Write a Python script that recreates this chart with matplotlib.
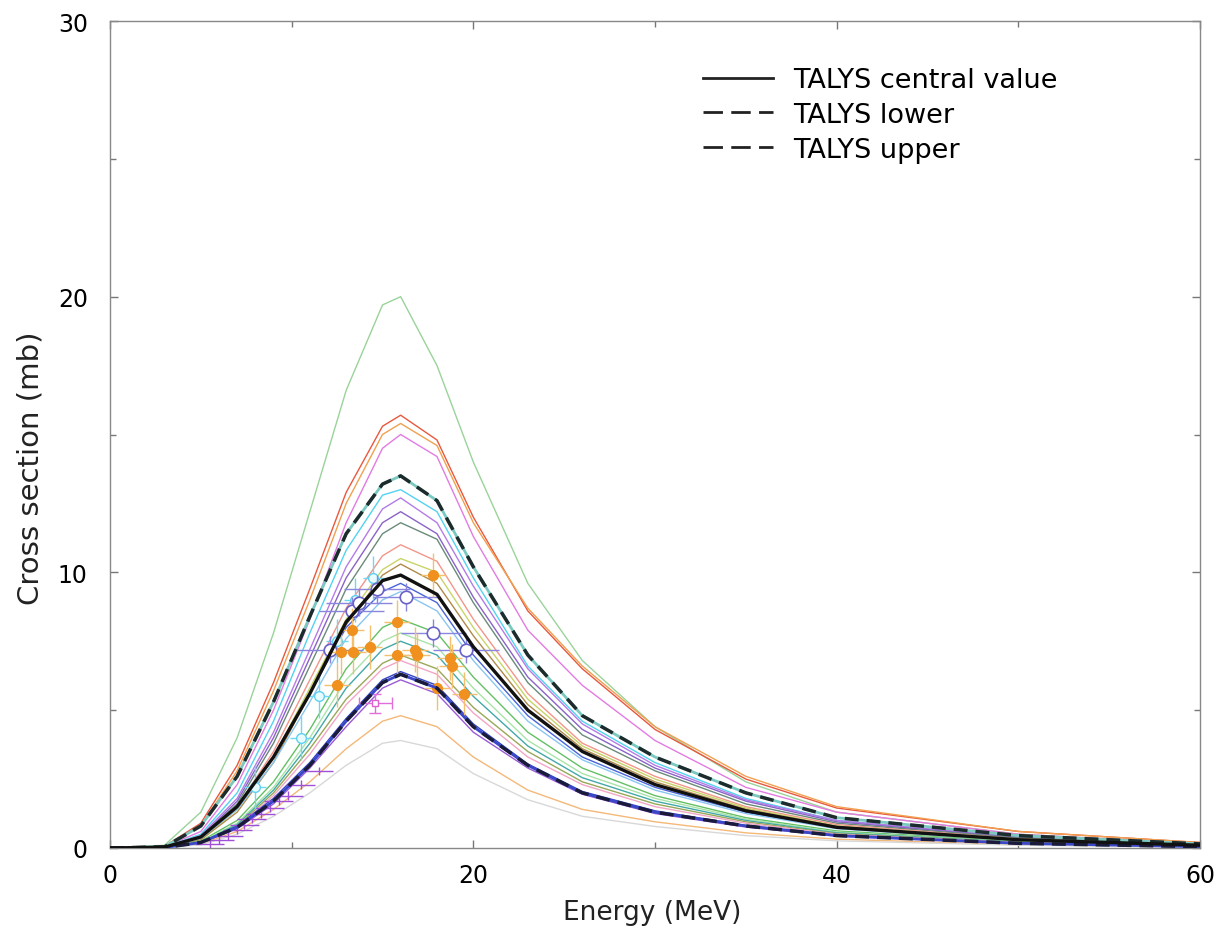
import matplotlib
matplotlib.use("Agg")
import matplotlib.pyplot as plt
from matplotlib.ticker import MultipleLocator
from matplotlib.lines import Line2D

# ---------------- data ----------------
energy = [0, 3, 5, 7, 9, 11, 13, 15, 16, 18, 20, 23, 26, 30, 35, 40, 50, 60]

central = [0, 0.03, 0.4, 1.5, 3.3, 5.6, 8.2, 9.7, 9.9, 9.2, 7.3, 5.0, 3.5, 2.3, 1.35, 0.75, 0.3, 0.1]
lower   = [0, 0.02, 0.2, 0.75, 1.7, 3.0, 4.6, 6.0, 6.3, 5.8, 4.4, 3.0, 2.0, 1.3, 0.8, 0.45, 0.17, 0.05]
upper   = [0, 0.04, 0.8, 2.6, 5.3, 8.4, 11.4, 13.2, 13.5, 12.6, 10.2, 7.0, 4.8, 3.3, 2.0, 1.1, 0.45, 0.15]

model_colors = ["#9ad39a", "#e8583e", "#f0a050", "#e27be2", "#52d3f0", "#b37ce6",
                "#8a62c8", "#6a8a7a", "#f2968a", "#c8d468", "#b08a4a", "#4a64d8",
                "#8ac6f0", "#64c064", "#a8e4a8", "#44a8a8", "#98a858", "#f2a6c6",
                "#3444c4", "#9a5ad8", "#f4b878", "#d8d8d8"]
model_values = [
    [0, 0.10, 1.3, 4.0, 7.8, 12.2, 16.6, 19.7, 20.0, 17.5, 14.0, 9.6, 6.8, 4.4, 2.4, 1.3, 0.5, 0.15],
    [0, 0.06, 0.9, 3.0, 6.0, 9.4, 12.9, 15.3, 15.7, 14.8, 12.0, 8.6, 6.5, 4.3, 2.5, 1.45, 0.6, 0.2],
    [0, 0.05, 0.8, 2.8, 5.7, 9.0, 12.5, 15.0, 15.4, 14.6, 11.8, 8.7, 6.6, 4.4, 2.6, 1.5, 0.6, 0.2],
    [0, 0.04, 0.6, 2.3, 5.0, 8.3, 11.8, 14.5, 15.0, 14.2, 11.3, 7.9, 5.9, 3.9, 2.2, 1.3, 0.5, 0.15],
    [0, 0.03, 0.5, 2.0, 4.6, 7.8, 10.8, 12.8, 13.0, 12.2, 9.8, 6.6, 4.6, 3.1, 1.8, 1.0, 0.4, 0.12],
    [0, 0.03, 0.45, 1.8, 4.2, 7.2, 10.2, 12.3, 12.7, 11.8, 9.5, 6.5, 4.5, 3.0, 1.75, 1.0, 0.4, 0.12],
    [0, 0.03, 0.4, 1.7, 4.0, 6.9, 9.8, 11.8, 12.2, 11.4, 9.1, 6.2, 4.3, 2.9, 1.7, 0.95, 0.38, 0.12],
    [0, 0.03, 0.4, 1.6, 3.8, 6.6, 9.4, 11.4, 11.8, 11.2, 8.9, 6.0, 4.1, 2.8, 1.6, 0.9, 0.36, 0.11],
    [0, 0.03, 0.35, 1.5, 3.5, 6.1, 8.7, 10.6, 11.0, 10.4, 8.3, 5.6, 3.8, 2.6, 1.5, 0.85, 0.33, 0.1],
    [0, 0.02, 0.3, 1.4, 3.3, 5.8, 8.3, 10.1, 10.5, 10.0, 8.0, 5.4, 3.7, 2.5, 1.45, 0.8, 0.32, 0.1],
    [0, 0.02, 0.3, 1.3, 3.1, 5.6, 8.1, 9.9, 10.3, 9.6, 7.7, 5.2, 3.6, 2.4, 1.4, 0.78, 0.3, 0.1],
    [0, 0.03, 0.4, 1.5, 3.3, 5.6, 8.0, 9.3, 9.6, 8.9, 7.0, 4.8, 3.3, 2.2, 1.3, 0.72, 0.28, 0.09],
    [0, 0.03, 0.35, 1.4, 3.1, 5.3, 7.6, 9.0, 9.3, 8.6, 6.8, 4.6, 3.2, 2.1, 1.25, 0.7, 0.27, 0.09],
    [0, 0.02, 0.25, 1.0, 2.4, 4.3, 6.5, 8.0, 8.3, 7.8, 6.2, 4.2, 2.9, 1.9, 1.1, 0.62, 0.24, 0.08],
    [0, 0.02, 0.22, 0.9, 2.2, 4.0, 6.1, 7.5, 7.8, 7.3, 5.8, 3.9, 2.7, 1.8, 1.05, 0.58, 0.22, 0.07],
    [0, 0.02, 0.2, 0.85, 2.1, 3.8, 5.8, 7.2, 7.5, 7.0, 5.5, 3.7, 2.55, 1.7, 1.0, 0.55, 0.21, 0.07],
    [0, 0.02, 0.18, 0.8, 2.0, 3.6, 5.4, 6.7, 7.0, 6.5, 5.1, 3.5, 2.4, 1.6, 0.95, 0.52, 0.2, 0.06],
    [0, 0.02, 0.17, 0.75, 1.9, 3.4, 5.2, 6.5, 6.8, 6.3, 4.9, 3.3, 2.3, 1.5, 0.9, 0.5, 0.19, 0.06],
    [0, 0.02, 0.2, 0.8, 1.8, 3.1, 4.7, 6.1, 6.4, 5.9, 4.5, 3.05, 2.05, 1.35, 0.82, 0.46, 0.17, 0.05],
    [0, 0.02, 0.18, 0.7, 1.6, 2.9, 4.4, 5.8, 6.1, 5.6, 4.2, 2.9, 1.95, 1.25, 0.76, 0.43, 0.16, 0.05],
    [0, 0.015, 0.15, 0.6, 1.4, 2.4, 3.6, 4.6, 4.8, 4.4, 3.3, 2.1, 1.4, 0.95, 0.55, 0.32, 0.12, 0.04],
    [0, 0.01, 0.12, 0.5, 1.15, 2.0, 3.0, 3.8, 3.9, 3.6, 2.7, 1.75, 1.15, 0.78, 0.45, 0.26, 0.1, 0.03],
]

# experimental data sets
exp_orange_e   = [12.5, 12.7, 13.3, 13.4, 14.3, 15.8, 15.8, 16.8, 16.9, 17.8, 18.0, 18.7, 18.8, 19.5]
exp_orange_sig = [5.9, 7.1, 7.9, 7.1, 7.3, 8.2, 7.0, 7.2, 7.0, 9.9, 5.8, 6.9, 6.6, 5.6]

exp_open_e   = [12.1, 13.3, 13.7, 14.7, 16.3, 17.8, 19.6]
exp_open_sig = [7.2, 8.6, 8.9, 9.4, 9.1, 7.8, 7.2]

exp_cyan_e   = [8.0, 10.5, 11.5, 12.5, 13.5, 14.5]
exp_cyan_sig = [2.2, 4.0, 5.5, 7.5, 9.0, 9.8]

exp_purple_e   = [5.5, 6.0, 6.5, 7.0, 7.4, 7.8, 8.3, 8.8, 9.3, 9.8, 10.5, 11.5]
exp_purple_sig = [0.15, 0.3, 0.45, 0.65, 0.85, 1.05, 1.25, 1.45, 1.7, 1.9, 2.3, 2.8]

exp_mag_e   = [14.6]
exp_mag_sig = [5.25]

x_ticks = [0, 20, 40, 60]
y_ticks = [0, 10, 20, 30]
legend_labels = ['TALYS central value', 'TALYS lower', 'TALYS upper']

# ---------------- figure ----------------
plt.rcParams['font.family'] = ['DejaVu Sans']
W, H = 1219, 937
fig = plt.figure(figsize=(W / 100, H / 100), dpi=100)
ax = fig.add_axes([110 / W, 1 - 849 / H, 1090 / W, 827 / H])

for c, v in zip(model_colors, model_values):
    ax.plot(energy, v, color=c, lw=1.0, zorder=2)

# experimental data
ax.errorbar(exp_purple_e, exp_purple_sig, xerr=0.8, yerr=0.15, fmt='none',
            ecolor='#a050d8', elinewidth=1.0, capsize=0, zorder=3)
ax.errorbar(exp_cyan_e, exp_cyan_sig, xerr=0.6, yerr=0.8, fmt='o', ms=7,
            mfc='#e8fbff', mec='#60d0f0', ecolor='#70d8f4', elinewidth=1.0, zorder=4)
ax.errorbar(exp_open_e, exp_open_sig, xerr=1.8, yerr=0.5, fmt='o', ms=9,
            mfc='white', mec='#6a62c8', mew=1.2, ecolor='#8a86e0', elinewidth=1.0, zorder=5)
ax.errorbar(exp_orange_e, exp_orange_sig, xerr=0.7, yerr=0.8, fmt='o', ms=7,
            mfc='#f0901e', mec='#f0901e', ecolor='#f4c070', elinewidth=1.0, zorder=6)
ax.errorbar(exp_mag_e, exp_mag_sig, xerr=0.9, yerr=0.35, fmt='s', ms=5,
            mfc='white', mec='#e060d0', ecolor='#e070d8', elinewidth=1.0, capsize=4, zorder=5)

# TALYS curves
ax.plot(energy, upper, color='#7ac8c0', lw=2.0, zorder=7)
ax.plot(energy, upper, color='#1c2c2c', lw=2.5, dashes=(4, 2.3), zorder=7)
ax.plot(energy, lower, color='#3a48c8', lw=2.0, zorder=7)
ax.plot(energy, lower, color='#1a1a3a', lw=2.5, dashes=(4, 2.3), zorder=7)
ax.plot(energy, central, color='#111111', lw=2.4, zorder=8)

ax.set_xlim(0, 60)
ax.set_ylim(0, 30)
ax.set_xticks(x_ticks)
ax.set_yticks(y_ticks)
ax.xaxis.set_minor_locator(MultipleLocator(10))
ax.yaxis.set_minor_locator(MultipleLocator(5))
ax.tick_params(which='both', direction='in', top=True, right=True, color='#777777', width=1.0)
ax.tick_params(which='major', length=6)
ax.tick_params(which='minor', length=4)
ax.tick_params(axis='x', which='major', labelsize=17, pad=11)
ax.tick_params(axis='y', which='major', labelsize=17, pad=16)
for s in ax.spines.values():
    s.set_color('#888888')
    s.set_linewidth(1.0)

ax.set_xlabel('Energy (MeV)', fontsize=19, color='#222222')
ax.set_ylabel('Cross section (mb)', fontsize=21, color='#222222')
ax.xaxis.set_label_coords((652 - 110) / 1090, (849 - 900) / 827)
ax.yaxis.set_label_coords((44 - 110) / 1090, (849 - 468) / 827)

handles = [Line2D([], [], color='#222222', lw=2.0),
           Line2D([], [], color='#222222', lw=2.0, dashes=(7, 3)),
           Line2D([], [], color='#222222', lw=2.0, dashes=(7, 3))]
ax.legend(handles, legend_labels,
          loc='upper left', bbox_to_anchor=((703 - 110) / 1090, (849 - 68) / 827),
          frameon=False, fontsize=19.5, handlelength=2.6, handletextpad=0.72,
          labelspacing=0.33, borderpad=0, borderaxespad=0)

fig.savefig('out.png', dpi=100)
